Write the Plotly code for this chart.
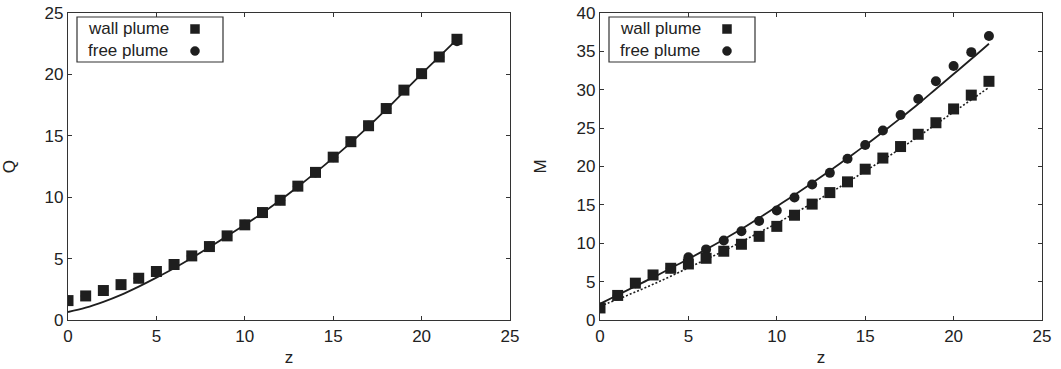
import plotly.graph_objects as go

# ---------------- data ----------------
z = list(range(0, 23))

# Left panel: Q
q_wall = [1.58, 1.96, 2.40, 2.88, 3.40, 3.95, 4.52, 5.22, 5.98, 6.85, 7.75,
          8.75, 9.75, 10.90, 12.02, 13.26, 14.52, 15.82, 17.22, 18.72, 20.06,
          21.42, 22.86]
q_free = [1.58, 1.96, 2.40, 2.88, 3.40, 3.95, 4.52, 5.22, 5.98, 6.85, 7.75,
          8.75, 9.75, 10.90, 12.02, 13.26, 14.52, 15.82, 17.22, 18.72, 20.06,
          21.42, 22.70]
q_theory = [0.65, 1.00, 1.48, 2.05, 2.72, 3.45, 4.22, 5.05, 5.93, 6.83, 7.75,
            8.72, 9.75, 10.85, 12.00, 13.20, 14.45, 15.77, 17.15, 18.60, 20.05,
            21.45, 22.85]

# Right panel: M
m_wall = [1.57, 3.20, 4.80, 5.87, 6.74, 7.30, 8.04, 8.96, 9.87, 10.90, 12.20,
          13.65, 15.10, 16.60, 18.00, 19.65, 21.10, 22.60, 24.20, 25.70, 27.50,
          29.30, 31.10]
m_free = [1.57, 3.20, 4.80, 5.87, 6.74, 8.17, 9.20, 10.35, 11.56, 12.90, 14.26,
          15.96, 17.65, 19.17, 21.00, 22.80, 24.70, 26.70, 28.80, 31.10, 33.10,
          34.90, 37.00]
m_free_theory = [2.10, 3.25, 4.40, 5.55, 6.75, 7.95, 9.20, 10.50, 11.85, 13.30,
                 14.80, 16.30, 17.85, 19.45, 21.10, 22.75, 24.50, 26.30, 28.15,
                 30.10, 32.05, 34.00, 36.00]
m_wall_theory = [1.80, 2.70, 3.65, 4.65, 5.70, 6.80, 7.90, 9.00, 10.20, 11.40,
                 12.60, 13.90, 15.20, 16.55, 17.95, 19.40, 20.85, 22.35, 23.90,
                 25.50, 27.10, 28.70, 30.30]

legend_labels = ["wall plume", "free plume"]
legend_keys = ["rect", "circle"]
x_ticks = [0, 5, 10, 15, 20, 25]
q_ticks = [0, 5, 10, 15, 20, 25]
m_ticks = [0, 5, 10, 15, 20, 25, 30, 35, 40]

# ---------------- style ----------------
INK = "#1e1e1e"
FRAME = "#333333"
FONT = dict(family="Liberation Sans, Arial, sans-serif", size=17, color="#222222")
W, H = 1061, 369

def px_x(p):
    return p / W

def px_y(p):
    return 1 - p / H

fig = go.Figure()

# left panel
fig.add_trace(go.Scatter(x=z, y=q_theory, mode="lines", line=dict(color=INK, width=1.8, shape="spline"),
                         xaxis="x", yaxis="y", showlegend=False, hoverinfo="skip"))
fig.add_trace(go.Scatter(x=z, y=q_free, mode="markers", marker=dict(symbol="circle", size=10, color=INK),
                         xaxis="x", yaxis="y", showlegend=False, name="free plume"))
fig.add_trace(go.Scatter(x=z, y=q_wall, mode="markers", marker=dict(symbol="square", size=11, color=INK),
                         xaxis="x", yaxis="y", showlegend=False, name="wall plume"))

# right panel
fig.add_trace(go.Scatter(x=z, y=m_free_theory, mode="lines", line=dict(color=INK, width=1.8, shape="spline"),
                         xaxis="x2", yaxis="y2", showlegend=False, hoverinfo="skip"))
fig.add_trace(go.Scatter(x=z, y=m_wall_theory, mode="lines", line=dict(color=INK, width=1.6, dash="2px,2px", shape="spline"),
                         xaxis="x2", yaxis="y2", showlegend=False, hoverinfo="skip"))
fig.add_trace(go.Scatter(x=z, y=m_free, mode="markers", marker=dict(symbol="circle", size=10, color=INK),
                         xaxis="x2", yaxis="y2", showlegend=False, name="free plume"))
fig.add_trace(go.Scatter(x=z, y=m_wall, mode="markers", marker=dict(symbol="square", size=11, color=INK),
                         xaxis="x2", yaxis="y2", showlegend=False, name="wall plume"))

common_axis = dict(showgrid=False, zeroline=False, showline=True, linecolor=FRAME, linewidth=1.2,
                   mirror="ticks", ticks="inside", ticklen=4, tickcolor=FRAME, tickwidth=1,
                   tickfont=FONT, automargin=False)

yd = [px_y(320), px_y(13)]
fig.update_layout(
    width=W, height=H,
    margin=dict(l=0, r=0, t=0, b=0),
    paper_bgcolor="white", plot_bgcolor="white",
    font=FONT,
    showlegend=False,
    xaxis=dict(domain=[px_x(68), px_x(510)], range=[0, 25], tickvals=x_ticks, anchor="y",
               title=dict(text="z", font=FONT, standoff=6), **common_axis),
    yaxis=dict(domain=yd, range=[0, 25], tickvals=q_ticks, anchor="x",
               title=dict(text="Q", font=FONT, standoff=25), **common_axis),
    xaxis2=dict(domain=[px_x(600), px_x(1042)], range=[0, 25], tickvals=x_ticks, anchor="y2",
                title=dict(text="z", font=FONT, standoff=6), **common_axis),
    yaxis2=dict(domain=yd, range=[0, 40], tickvals=m_ticks, anchor="x2",
                title=dict(text="M", font=FONT, standoff=25), **common_axis),
)

# custom legends (text on the left, key on the right, as in the reference)
for (bx0, tx, sx) in [(77, 86, 195), (609, 618, 727)]:
    fig.add_shape(type="rect", xref="paper", yref="paper",
                  x0=px_x(bx0), x1=px_x(bx0 + 146), y0=px_y(62), y1=px_y(17),
                  line=dict(color=FRAME, width=1.2), fillcolor="white", layer="above")
    for i, (lab, key) in enumerate(zip(legend_labels, legend_keys)):
        yc = 29 + 22 * i
        fig.add_annotation(xref="paper", yref="paper", x=px_x(tx), y=px_y(yc), text=lab,
                           showarrow=False, xanchor="left", yanchor="middle", font=FONT)
        r = 4.5
        fig.add_shape(type=key, xref="paper", yref="paper",
                      x0=px_x(sx - r), x1=px_x(sx + r), y0=px_y(yc + r), y1=px_y(yc - r),
                      line=dict(color=INK, width=0.5), fillcolor=INK, layer="above")

fig.write_html("out.html")
